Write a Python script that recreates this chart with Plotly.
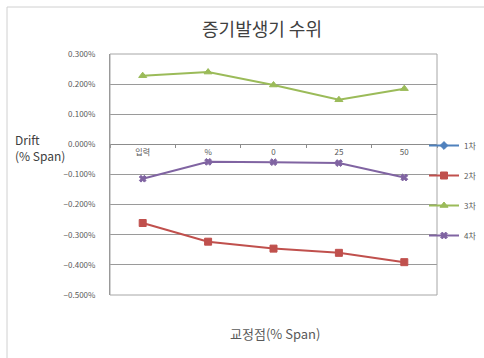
import plotly.graph_objects as go

# Calibration points (category labels on the horizontal axis)
points = ["입력", "%", "0", "25", "50"]

# Drift values in fraction units (0.01 = 1 %)
drift_1 = [None, None, None, None, None]
drift_2 = [-0.00261, -0.00323, -0.00346, -0.00360, -0.00391]
drift_3 = [0.00228, 0.00240, 0.00197, 0.00148, 0.00185]
drift_4 = [-0.00114, -0.00058, -0.00059, -0.00062, -0.00110]

series_names = ["1차", "2차", "3차", "4차"]
series_colors = ["#4F81BD", "#C0504D", "#9BBB59", "#8064A2"]
series_symbols = ["diamond", "square", "triangle-up", "x"]
series_sizes = [6, 7, 7, 6]

W, H = 484, 358
L, R, T, B = 110, 47, 54, 63
plot_w = W - L - R
plot_h = H - T - B

y_min, y_max = -0.005, 0.003
zero_pos = (0 - y_min) / (y_max - y_min)

fig = go.Figure()
for i, (name, vals) in enumerate(zip(series_names, [drift_1, drift_2, drift_3, drift_4])):
    fig.add_trace(go.Scatter(
        x=points, y=vals, name=name, mode="lines+markers",
        line=dict(color=series_colors[i], width=2),
        marker=dict(symbol=series_symbols[i], size=series_sizes[i],
                    color=series_colors[i],
                    line=dict(color=series_colors[i], width=1)),
        legendgroup=name, connectgaps=False,
    ))

fig.update_layout(
    width=W, height=H,
    margin=dict(l=L, r=R, t=T, b=B, autoexpand=False),
    paper_bgcolor="white", plot_bgcolor="white",
    font=dict(family="Noto Sans CJK KR, Noto Sans, sans-serif", color="#595959"),
    title=dict(text="증기발생기 수위", x=262 / W, xanchor="center",
               y=1 - 30 / H, yanchor="middle",
               font=dict(size=18, color="#404040",
                         family="Noto Sans CJK KR, sans-serif")),
    showlegend=True,
    legend=dict(x=(424 - L) / plot_w, xanchor="left", y=1 - (131 - T) / plot_h,
                yanchor="top", traceorder="grouped", tracegroupgap=11,
                font=dict(size=8, color="#595959"), itemwidth=30,
                bgcolor="rgba(0,0,0,0)"),
    xaxis=dict(
        type="category", categoryorder="array", categoryarray=points,
        anchor="free", position=zero_pos,
        showgrid=False, showline=True, linecolor="#8c8c8c", linewidth=1,
        ticks="outside", tickson="boundaries", ticklen=3, tickcolor="#8c8c8c",
        tickfont=dict(size=8, color="#595959"), range=[-0.5, 4.5],
        zeroline=False, title=None,
    ),
    yaxis=dict(
        range=[y_min, y_max], dtick=0.001, tickformat=".3%",
        showgrid=True, gridcolor="#9a9a9a", gridwidth=1,
        showline=True, linecolor="#8c8c8c", linewidth=1,
        ticks="", ticklabelstandoff=12,
        tickfont=dict(size=8, color="#595959"),
        zeroline=False,
    ),
    shapes=[
        # plot area frame
        dict(type="rect", xref="x domain", yref="y domain", x0=0, x1=1, y0=0, y1=1,
             line=dict(color="#a6a6a6", width=1), layer="above"),
        # chart area frame
        dict(type="rect", xref="paper", yref="paper",
             x0=(7 - L) / plot_w, x1=(W + 10 - L) / plot_w,
             y0=-(H + 10 - T - plot_h) / plot_h, y1=1 + (T - 7) / plot_h,
             line=dict(color="#d0d0d0", width=1)),
    ],
    annotations=[
        dict(text="Drift<br>(% Span)", xref="paper", yref="paper",
             x=(13 - L) / plot_w, y=1 - (147 - T) / plot_h,
             xanchor="left", yanchor="middle", align="left", showarrow=False,
             font=dict(size=12, color="#404040")),
        dict(text="교정점(% Span)", xref="paper", yref="paper",
             x=(275 - L) / plot_w, y=-(333 - T - plot_h) / plot_h,
             xanchor="center", yanchor="middle", showarrow=False,
             font=dict(size=13, color="#595959")),
    ],
)

fig.write_html("out.html")
